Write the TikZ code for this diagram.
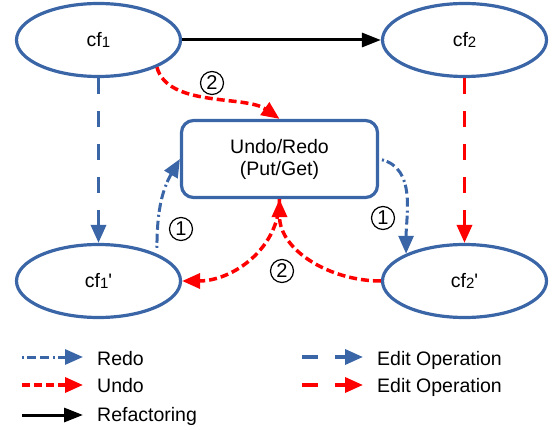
\documentclass[tikz,border=0pt]{standalone}
\usepackage{fontspec}
\setmainfont{Liberation Sans}
\usetikzlibrary{arrows.meta,shapes.geometric}
\definecolor{blau}{RGB}{58,101,166}
\definecolor{rot}{RGB}{255,0,0}
\newcommand{\idx}[1]{{\fontsize{15}{15}\selectfont\raisebox{-1.5pt}{#1}}}
\tikzset{zustand/.style={ellipse,draw=blau,line width=3.2pt,minimum width=164pt,minimum height=73pt,inner sep=0pt},
         kasten/.style={rectangle,rounded corners=12pt,draw=blau,line width=3.2pt,minimum width=196pt,minimum height=77pt,align=center},
         nummer/.style={circle,draw,line width=1.2pt,minimum size=23pt,inner sep=0pt,font=\fontsize{20}{22}\selectfont},
         legende/.style={anchor=base west,inner sep=0pt},
         redo/.style={->,blau,line width=3pt,dash pattern=on 2pt off 3pt on 9pt off 4pt on 9pt off 4pt},
         undo/.style={->,rot,line width=3.5pt,dash pattern=on 8pt off 4pt},
         editb/.style={->,blau,line width=3.5pt,dash pattern=on 16pt off 17pt},
         editr/.style={->,rot,line width=3.5pt,dash pattern=on 16pt off 17pt},
         refactor/.style={-{Triangle[length=19pt,width=14pt]},black,line width=3pt}}

\begin{document}
\begin{tikzpicture}[x=1pt,y=1pt,>={Triangle[length=18pt,width=15pt]},
    every node/.style={font=\fontsize{19.5}{22}\selectfont}]
    \useasboundingbox (0,0) rectangle (559,-430);

    % Zustaende und Undo/Redo-Kasten
    \path node [zustand] (cf1) at (98.5,-40) {cf\idx{1}}
          node [zustand] (cf2) at (464.5,-40) {cf\idx{2}}
          node [zustand] (cf1s) at (98.5,-281) {cf\idx{1}\textquotesingle}
          node [zustand] (cf2s) at (464.5,-281) {cf\idx{2}\textquotesingle}
          node [kasten] (ur) at (279.5,-159) {Undo/Redo\\(Put/Get)};

    \path node [nummer] (n2o) at (212,-83) {2}
          node [nummer] (n1l) at (181,-229) {1}
          node [nummer] (n1r) at (383,-218) {1}
          node [nummer] (n2u) at (282,-271) {2};

    \path (cf1.east) edge [refactor] (cf2.west)
          (cf1.south) edge [editb] (cf1s.north)
          (cf2.south) edge [editr] (cf2s.north)
          (cf1s.25) edge [redo, shorten <=6pt, out=90, in=240] (ur.west)
          (ur.east) edge [redo, shorten <=3pt, out=-15, in=90] (cf2s.155)
          (cf1.-25) edge [undo, out=-75, in=145, looseness=0.8] (ur.north)
          (cf2s.west) edge [undo, out=180, in=-90] (ur.south)
          (ur.south) edge [undo, out=-90, in=0] (cf1s.east);

    % Legende
    \path node [legende] (tredo) at (97,-365) {Redo}
          node [legende] (tundo) at (97,-392) {Undo}
          node [legende] (tref) at (97,-421) {Refactoring}
          node [legende] (tedb) at (377,-365) {Edit Operation}
          node [legende] (tedr) at (377,-392) {Edit Operation};
    \coordinate (la1) at (22,-357);  \coordinate (lb1) at (83,-357);
    \coordinate (la2) at (22,-385);  \coordinate (lb2) at (83,-385);
    \coordinate (la3) at (22,-415);  \coordinate (lb3) at (83,-415);
    \coordinate (la4) at (302,-357); \coordinate (lb4) at (363,-357);
    \coordinate (la5) at (302,-385); \coordinate (lb5) at (363,-385);
    \path (la1) edge [redo] (lb1)
          (la2) edge [undo] (lb2)
          (la3) edge [refactor] (lb3)
          (la4) edge [editb] (lb4)
          (la5) edge [editr] (lb5);
\end{tikzpicture}
\end{document}
